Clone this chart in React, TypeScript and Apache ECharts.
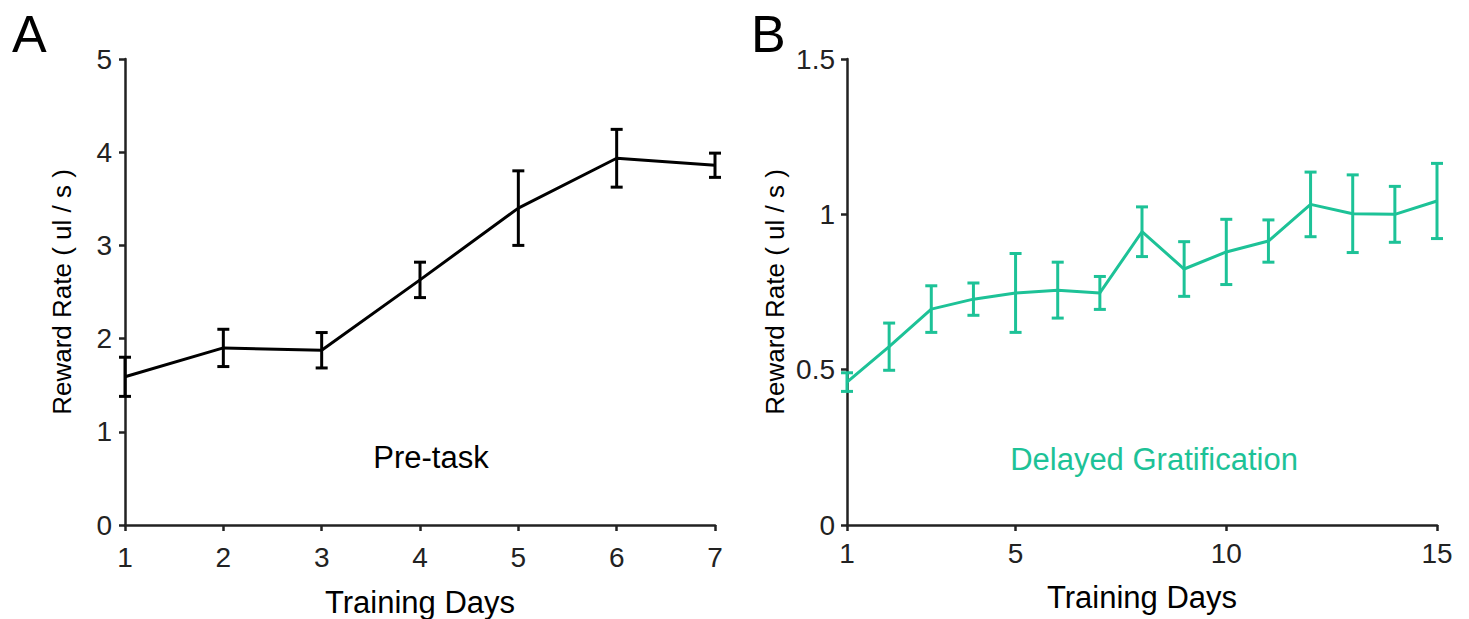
import React, { useEffect, useRef } from "react";
import * as echarts from "echarts";

const preDays = [1, 2, 3, 4, 5, 6, 7];
const preMean = [1.59, 1.9, 1.875, 2.63, 3.4, 3.935, 3.86];
const preErr = [0.21, 0.2, 0.19, 0.19, 0.4, 0.31, 0.13];

const dgDays = [1, 2, 3, 4, 5, 6, 7, 8, 9, 10, 11, 12, 13, 14, 15];
const dgMean = [0.46, 0.574, 0.695, 0.727, 0.747, 0.756, 0.747, 0.944, 0.824, 0.879, 0.914, 1.032, 1.002, 1.0, 1.043];
const dgErr = [0.03, 0.076, 0.075, 0.052, 0.127, 0.09, 0.053, 0.08, 0.088, 0.105, 0.068, 0.104, 0.125, 0.09, 0.121];

const preXTicks = [1, 2, 3, 4, 5, 6, 7];
const dgXTicks = [1, 5, 10, 15];

const GREEN = "#1DC297";
const AXIS = "#222222";
const FONT = "'Liberation Sans', Arial, sans-serif";

function errorRender(color: string, capHalf: number, width: number) {
  return (params: any, api: any) => {
    const x = api.value(0);
    const lo = api.value(1);
    const hi = api.value(2);
    const pLo = api.coord([x, lo]);
    const pHi = api.coord([x, hi]);
    const style = { stroke: color, lineWidth: width, fill: "none" };
    return {
      type: "group",
      children: [
        { type: "line", shape: { x1: pLo[0], y1: pLo[1], x2: pHi[0], y2: pHi[1] }, style },
        { type: "line", shape: { x1: pLo[0] - capHalf, y1: pLo[1], x2: pLo[0] + capHalf, y2: pLo[1] }, style },
        { type: "line", shape: { x1: pHi[0] - capHalf, y1: pHi[1], x2: pHi[0] + capHalf, y2: pHi[1] }, style },
      ],
    };
  };
}

export default function App() {
  const ref = useRef<HTMLDivElement>(null);
  useEffect(() => {
    if (!ref.current) return;
    const chart = echarts.init(ref.current, undefined, { renderer: "svg" });
    const axisLine = { show: true, lineStyle: { color: AXIS, width: 2.5 } };
    const axisTick = { show: true, length: 6, lineStyle: { color: AXIS, width: 2.5 } };
    const labelStyle = { color: AXIS, fontSize: 28, fontFamily: FONT };
    const xNameStyle = { color: "#000", fontSize: 31, fontFamily: FONT };
    const yNameStyle = { color: "#000", fontSize: 26, fontFamily: FONT };

    chart.setOption({
      animation: false,
      backgroundColor: "#ffffff",
      grid: [
        { left: 125, top: 59, width: 590, height: 466, containLabel: false, outerBoundsMode: "none" },
        { left: 847, top: 59, width: 590, height: 466, containLabel: false, outerBoundsMode: "none" },
      ],
      xAxis: [
        {
          type: "value", gridIndex: 0, min: 1, max: 7, interval: 1,
          axisLine, axisTick: { ...axisTick, customValues: preXTicks },
          axisLabel: { ...labelStyle, margin: 18, customValues: preXTicks },
          splitLine: { show: false },
          name: "Training Days", nameLocation: "middle", nameGap: 62, nameTextStyle: xNameStyle,
        },
        {
          type: "value", gridIndex: 1, min: 1, max: 15,
          axisLine, axisTick: { ...axisTick, customValues: dgXTicks },
          axisLabel: { ...labelStyle, margin: 14, customValues: dgXTicks },
          splitLine: { show: false },
          name: "Training Days", nameLocation: "middle", nameGap: 57, nameTextStyle: xNameStyle,
        },
      ],
      yAxis: [
        {
          type: "value", gridIndex: 0, min: 0, max: 5, interval: 1,
          axisLine, axisTick,
          axisLabel: { ...labelStyle, margin: 13 },
          splitLine: { show: false },
          name: "Reward Rate ( ul / s )", nameLocation: "middle", nameGap: 50, nameTextStyle: yNameStyle,
        },
        {
          type: "value", gridIndex: 1, min: 0, max: 1.5, interval: 0.5,
          axisLine, axisTick,
          axisLabel: { ...labelStyle, margin: 12 },
          splitLine: { show: false },
          name: "Reward Rate ( ul / s )", nameLocation: "middle", nameGap: 59, nameTextStyle: yNameStyle,
        },
      ],
      series: [
        {
          type: "line", xAxisIndex: 0, yAxisIndex: 0,
          data: preDays.map((d, i) => [d, preMean[i]]),
          showSymbol: false, symbol: "none",
          lineStyle: { color: "#000", width: 3 }, z: 3,
        },
        {
          type: "custom", xAxisIndex: 0, yAxisIndex: 0,
          data: preDays.map((d, i) => [d, preMean[i] - preErr[i], preMean[i] + preErr[i]]),
          renderItem: errorRender("#000", 6, 3), z: 4, clip: false,
        },
        {
          type: "line", xAxisIndex: 1, yAxisIndex: 1,
          data: dgDays.map((d, i) => [d, dgMean[i]]),
          showSymbol: false, symbol: "none",
          lineStyle: { color: GREEN, width: 3 }, z: 3,
        },
        {
          type: "custom", xAxisIndex: 1, yAxisIndex: 1,
          data: dgDays.map((d, i) => [d, dgMean[i] - dgErr[i], dgMean[i] + dgErr[i]]),
          renderItem: errorRender(GREEN, 6, 3), z: 4, clip: false,
        },
      ],
      graphic: [
        { type: "text", left: 12, top: 8, style: { text: "A", fontSize: 52, fontFamily: FONT, fill: "#000" } },
        { type: "text", left: 751, top: 8, style: { text: "B", fontSize: 52, fontFamily: FONT, fill: "#000" } },
        { type: "text", x: 431, y: 457, style: { text: "Pre-task", fontSize: 31, fontFamily: FONT, fill: "#000", align: "center", verticalAlign: "middle" } },
        { type: "text", x: 1154, y: 459, style: { text: "Delayed Gratification", fontSize: 31, fontFamily: FONT, fill: GREEN, align: "center", verticalAlign: "middle" } },
      ],
    });
    return () => chart.dispose();
  }, []);
  return <div ref={ref} style={{ position: "absolute", left: 0, top: 0, width: 1469, height: 619 }} />;
}
